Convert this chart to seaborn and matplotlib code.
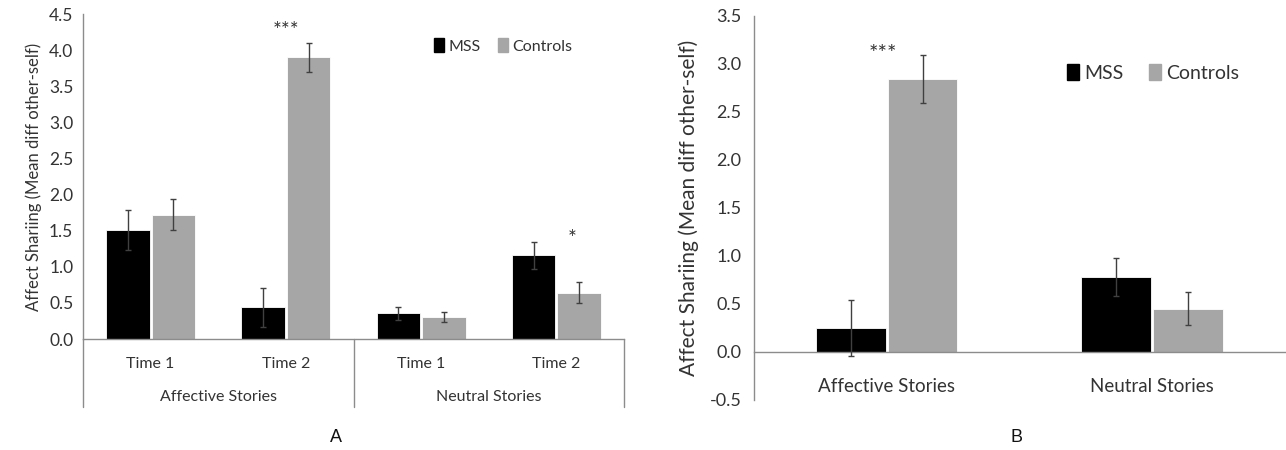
import matplotlib

matplotlib.use("Agg")
import matplotlib.pyplot as plt
import matplotlib.transforms as mtransforms
import numpy as np
import pandas as pd
import seaborn as sns

# panel A data
times = ["Time 1", "Time 2", "Time 1 ", "Time 2 "]
time_labels = ["Time 1", "Time 2", "Time 1", "Time 2"]
story_groups = ["Affective Stories", "Neutral Stories"]
mss_a = [1.51, 0.44, 0.356, 1.157]
mss_a_err = [0.28, 0.27, 0.09, 0.19]
ctrl_a = [1.72, 3.90, 0.305, 0.64]
ctrl_a_err = [0.215, 0.205, 0.07, 0.145]

# panel B data
stories = ["Affective Stories", "Neutral Stories"]
mss_b = [0.25, 0.78]
mss_b_err = [0.29, 0.195]
ctrl_b = [2.84, 0.45]
ctrl_b_err = [0.25, 0.17]

groups = ["MSS", "Controls"]
palette = {"MSS": "#000000", "Controls": "#a6a6a6"}
text_color = "#333333"
line_color = "#8c8c8c"

sns.set_style("white")
plt.rcParams["font.family"] = ["Lato", "DejaVu Sans"]
plt.rcParams["text.color"] = text_color
plt.rcParams["axes.labelcolor"] = text_color
plt.rcParams["xtick.color"] = text_color
plt.rcParams["ytick.color"] = text_color


def make_frame(cats, mss, ctrl):
    return pd.DataFrame({
        "cat": list(cats) * 2,
        "group": ["MSS"] * len(cats) + ["Controls"] * len(cats),
        "value": list(mss) + list(ctrl),
    })


def draw_errors(ax, errs):
    for container, err in zip(ax.containers, errs):
        xs = [p.get_x() + p.get_width() / 2 for p in container]
        ys = [p.get_height() for p in container]
        ax.errorbar(xs, ys, yerr=err, fmt="none", ecolor="#404040",
                    elinewidth=1.0, capsize=2.5, capthick=1.0, zorder=3)


def style_axis(ax):
    sns.despine(ax=ax, top=True, right=True)
    ax.spines["left"].set_color(line_color)
    ax.spines["bottom"].set_color(line_color)
    ax.spines["left"].set_linewidth(1.0)
    ax.spines["bottom"].set_linewidth(1.0)
    ax.set_xlabel("")


fig = plt.figure(figsize=(12.86, 4.5), dpi=100)

# ---------- panel A ----------
axA = fig.add_axes([83 / 1286, (450 - 339) / 450, (624 - 83) / 1286, (339 - 14) / 450])
dfA = make_frame(times, mss_a, ctrl_a)
sns.barplot(data=dfA, x="cat", y="value", hue="group", order=times, hue_order=groups,
            palette=palette, width=0.67, gap=0.04, saturation=1, errorbar=None,
            edgecolor="white", linewidth=0.6, legend=False, ax=axA)
draw_errors(axA, [mss_a_err, ctrl_a_err])
style_axis(axA)
axA.set_ylim(0, 4.5)
axA.set_xlim(-0.5, 3.5)
axA.set_yticks(np.arange(0, 4.51, 0.5))
axA.set_yticklabels([f"{v:.1f}" for v in np.arange(0, 4.51, 0.5)], fontsize=12.5)
axA.set_xticks(range(len(times)))
axA.set_xticklabels(time_labels, fontsize=11.5)
axA.tick_params(length=0)
axA.tick_params(axis="x", pad=13)
axA.tick_params(axis="y", pad=7)
axA.set_ylabel("Affect Shariing (Mean diff other-self)", fontsize=12, labelpad=5)

trA = mtransforms.blended_transform_factory(axA.transData, axA.transAxes)
for xd in [-0.5, 1.5, 3.5]:
    axA.plot([xd, xd], [0, -0.21], transform=trA, color=line_color, lw=1.0, clip_on=False)
for i, name in enumerate(story_groups):
    axA.text(0.5 + 2 * i, -0.178, name, transform=trA, ha="center", va="center", fontsize=11.5)

axA.text(1.0, 4.12, "***", ha="center", va="bottom", fontsize=15)
axA.text(3.12, 1.25, "*", ha="center", va="bottom", fontsize=15)

hA = [plt.Rectangle((0, 0), 1, 1, color=palette[g]) for g in groups]
axA.legend(hA, groups, loc="center", bbox_to_anchor=(503 / 1286, 1 - 46 / 450),
           bbox_transform=fig.transFigure, ncol=2, frameon=False, fontsize=11.5,
           handlelength=0.65, handleheight=0.9, handletextpad=0.25, columnspacing=1.1)

fig.text(336 / 1286, 1 - 438 / 450, "A", ha="center", va="center", fontsize=13,
         family=["Liberation Sans", "DejaVu Sans"], color="#111111")

# ---------- panel B ----------
axB = fig.add_axes([754 / 1286, (450 - 400) / 450, (1286 - 754) / 1286 - 0.001, (400 - 16) / 450])
dfB = make_frame(stories, mss_b, ctrl_b)
sns.barplot(data=dfB, x="cat", y="value", hue="group", order=stories, hue_order=groups,
            palette=palette, width=0.54, gap=0.03, saturation=1, errorbar=None,
            edgecolor="white", linewidth=0.6, legend=False, ax=axB)
draw_errors(axB, [mss_b_err, ctrl_b_err])
style_axis(axB)
axB.spines["bottom"].set_position(("data", 0))
axB.set_ylim(-0.5, 3.5)
axB.set_xlim(-0.5, 1.5)
yt = np.arange(-0.5, 3.51, 0.5)
axB.set_yticks(yt)
axB.set_yticklabels([f"{v:.1f}" for v in yt], fontsize=13)
axB.set_xticks(range(len(stories)))
axB.set_xticklabels(stories, fontsize=13.5)
axB.tick_params(length=0)
axB.tick_params(axis="x", pad=19)
axB.tick_params(axis="y", pad=9)
axB.set_ylabel("Affect Shariing (Mean diff other-self)", fontsize=15, labelpad=8)

axB.text(-0.015, 3.0, "***", ha="center", va="bottom", fontsize=16)

hB = [plt.Rectangle((0, 0), 1, 1, color=palette[g]) for g in groups]
axB.legend(hB, groups, loc="center", bbox_to_anchor=(1153 / 1286, 1 - 73 / 450),
           bbox_transform=fig.transFigure, ncol=2, frameon=False, fontsize=14,
           handlelength=0.65, handleheight=0.9, handletextpad=0.25, columnspacing=1.3)

fig.text(1016 / 1286, 1 - 437 / 450, "B", ha="center", va="center", fontsize=13,
         family=["Liberation Sans", "DejaVu Sans"], color="#111111")

fig.savefig("out.png", dpi=100)
plt.close(fig)
